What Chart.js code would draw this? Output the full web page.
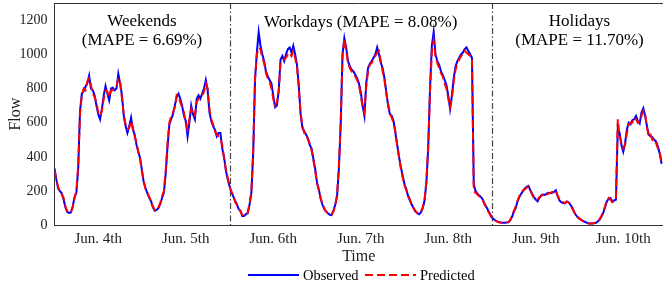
<!DOCTYPE html>
<html>
<head>
<meta charset="utf-8">
<script src="https://cdn.jsdelivr.net/npm/chart.js@4.4.1/dist/chart.umd.min.js"></script>
<style>
html, body { margin: 0; padding: 0; background: #fff; overflow: hidden; }
</style>
</head>
<body>
<canvas id="flowChart" width="663" height="286"></canvas>
<script>
// half-hourly traffic flow, one array per day (00:00 .. 23:30)
var obsJun4 = [333,270,215,200,187,150,105,78,72,75,110,165,190,330,670,770,785,810,830,875,800,790,760,700,650,620,680,760,815,770,730,800,805,790,800,885,830,760,640,580,540,580,630,560,530,470,430,390];
var obsJun5 = [320,250,215,185,160,140,105,85,90,100,125,160,190,300,460,590,620,650,700,750,770,740,700,640,610,520,600,700,650,620,740,760,740,770,800,850,790,660,610,580,560,520,540,540,450,400,320,270];
var obsJun6 = [230,195,170,145,125,95,85,55,55,65,70,120,190,420,850,1010,1130,1050,1000,960,900,870,850,830,760,690,700,790,970,990,960,1000,1030,1040,1010,1050,1000,940,820,650,570,550,530,510,470,450,390,330];
var obsJun7 = [250,210,155,120,95,80,70,62,60,85,120,170,330,590,1000,1095,1040,960,930,910,900,880,860,830,780,700,640,830,920,945,960,980,1000,1040,1000,950,920,860,780,700,650,640,610,540,470,400,340,290];
var obsJun8 = [240,210,170,145,120,100,80,72,65,75,100,145,250,450,800,1050,1130,1000,960,940,900,880,850,820,760,680,760,860,930,960,980,1000,1010,1030,1040,1020,1000,980,240,200,185,175,165,150,125,105,85,65];
var obsJun9 = [45,35,28,22,18,16,15,15,16,18,30,50,80,100,140,165,185,200,215,225,230,205,185,165,150,140,160,175,180,178,185,190,188,190,195,205,170,145,135,130,128,140,135,120,105,80,60,48];
var obsJun10 = [40,32,25,20,15,12,10,10,12,15,22,32,50,72,105,140,155,160,140,145,150,570,540,470,430,480,560,600,590,615,620,640,610,595,660,685,640,580,530,520,515,500,490,460,420,360];

var predJun4 = [320,265,225,195,180,160,110,82,70,80,105,160,200,350,650,760,800,790,840,860,820,770,750,720,660,640,670,740,790,780,750,790,790,800,810,860,840,740,650,590,560,570,610,570,520,480,425,385];
var predJun5 = [310,255,210,190,165,135,110,88,85,105,130,170,200,320,480,600,640,660,690,760,750,720,690,660,600,560,620,680,640,640,720,740,750,760,780,830,800,680,620,590,550,530,520,510,470,390,330,280];
var predJun6 = [225,200,175,140,120,100,80,60,60,60,75,125,200,440,860,1000,1040,1030,980,950,890,860,840,800,740,700,720,780,950,970,970,980,1000,1010,990,1020,980,930,800,660,580,540,540,500,480,440,380,320];
var predJun7 = [245,205,160,125,100,80,72,65,62,80,115,180,350,600,990,1090,1020,950,920,900,890,870,850,820,760,690,660,810,900,940,950,970,990,1010,1020,960,900,850,770,710,660,630,600,550,460,400,330,280];
var predJun8 = [235,205,175,150,115,100,85,70,68,80,105,150,260,470,780,1020,1080,990,950,920,890,870,830,800,740,690,740,840,910,950,970,990,1000,1020,1010,1000,990,970,200,190,180,170,160,145,120,100,80,60];
var predJun9 = [42,33,26,20,17,15,14,15,17,20,32,55,85,110,145,170,190,205,210,220,225,210,180,160,155,150,165,170,185,180,180,185,190,195,190,200,175,150,140,135,130,138,132,118,100,78,58,45];
var predJun10 = [38,30,24,19,14,11,10,11,13,16,24,35,55,80,110,150,160,150,135,140,160,620,520,480,450,470,540,590,600,600,630,620,600,610,640,670,650,570,520,530,500,510,480,450,430,370];

var dayLabels = ["Jun. 4th", "Jun. 5th", "Jun. 6th", "Jun. 7th", "Jun. 8th", "Jun. 9th", "Jun. 10th"];
var yTicks = [0, 200, 400, 600, 800, 1000, 1200];
var periodBreaks = [48, 120];          // hours where the day type changes
var periodCenters = [24, 84, 144];
var periodText = [
    ["Weekends", "(MAPE = 6.69%)"],
    ["Workdays (MAPE = 8.08%)"],
    ["Holidays", "(MAPE = 11.70%)"]
];
var stepHours = 0.5;

var observed = [].concat(obsJun4, obsJun5, obsJun6, obsJun7, obsJun8, obsJun9, obsJun10);
var predicted = [].concat(predJun4, predJun5, predJun6, predJun7, predJun8, predJun9, predJun10);

function toPoints(arr) {
    return arr.map(function(v, i) { return {x: i * stepHours, y: v}; });
}

var serif = "'Liberation Serif', 'Times New Roman', serif";
var axisColor = "#333";

function noPadding(scale) {
    scale.paddingTop = 0;
    scale.paddingBottom = 0;
    scale.paddingLeft = 0;
    scale.paddingRight = 0;
}

var extras = {
    id: "extras",
    beforeDatasetsDraw: function(chart) {
        var ctx = chart.ctx, area = chart.chartArea, xs = chart.scales.x;
        ctx.save();
        ctx.strokeStyle = "#444";
        ctx.lineWidth = 1.2;
        ctx.setLineDash([6, 2.5, 1.5, 2.5]);
        periodBreaks.forEach(function(h) {
            var px = Math.round(xs.getPixelForValue(h)) + 0.5;
            ctx.beginPath();
            ctx.moveTo(px, area.top);
            ctx.lineTo(px, area.bottom);
            ctx.stroke();
        });
        ctx.restore();
    },
    afterDraw: function(chart) {
        var ctx = chart.ctx, area = chart.chartArea, xs = chart.scales.x;
        ctx.save();
        // top spine
        ctx.strokeStyle = axisColor;
        ctx.lineWidth = 1;
        ctx.beginPath();
        ctx.moveTo(area.left, area.top + 0.5);
        ctx.lineTo(area.right, area.top + 0.5);
        ctx.stroke();

        // period annotations
        ctx.fillStyle = "#000";
        ctx.font = "17px " + serif;
        ctx.textAlign = "center";
        ctx.textBaseline = "alphabetic";
        periodText.forEach(function(lines, k) {
            var cx = xs.getPixelForValue(periodCenters[k]);
            if (lines.length == 1) {
                ctx.fillText(lines[0], cx, 27);
            } else {
                ctx.fillText(lines[0], cx, 25.5);
                ctx.fillText(lines[1], cx, 44.5);
            }
        });

        // legend
        var ds = chart.data.datasets;
        var items = [
            {d: ds[0], x0: 248, x1: 299, tx: 303},
            {d: ds[1], x0: 365, x1: 416, tx: 420}
        ];
        ctx.textAlign = "left";
        ctx.font = "14.5px " + serif;
        items.forEach(function(it) {
            ctx.strokeStyle = it.d.borderColor;
            ctx.lineWidth = 2;
            ctx.setLineDash(it.d.borderDash || []);
            ctx.beginPath();
            ctx.moveTo(it.x0, 275);
            ctx.lineTo(it.x1, 275);
            ctx.stroke();
            ctx.setLineDash([]);
            ctx.fillStyle = "#000";
            ctx.fillText(it.d.label, it.tx, 279.5);
        });
        ctx.restore();
    }
};

var ctx = document.getElementById("flowChart").getContext("2d");

var config = {
    type: "line",
    data: {
        datasets: [
            {
                label: "Observed",
                data: toPoints(observed),
                borderColor: "#0000ff",
                borderWidth: 2,
                pointRadius: 0,
                tension: 0,
                order: 2
            },
            {
                label: "Predicted",
                data: toPoints(predicted),
                borderColor: "#ff0000",
                borderWidth: 2,
                borderDash: [8, 4],
                pointRadius: 0,
                tension: 0,
                order: 1
            }
        ]
    },
    options: {
        responsive: false,
        animation: false,
        devicePixelRatio: 1,
        layout: {
            padding: {top: 3, right: 0, bottom: 20, left: 0}
        },
        scales: {
            x: {
                type: "linear",
                min: 0,
                max: 166.9,
                grid: { display: false, drawTicks: false },
                border: { display: true, color: axisColor, width: 1 },
                afterBuildTicks: function(scale) {
                    scale.ticks = dayLabels.map(function(lab, i) { return {value: 12 + 24 * i}; });
                },
                afterFit: function(scale) { scale.height = 40.7; noPadding(scale); },
                ticks: {
                    color: "#222",
                    font: { family: serif, size: 15 },
                    padding: 5,
                    maxRotation: 0,
                    autoSkip: false,
                    callback: function(v) { return dayLabels[Math.round((v - 12) / 24)]; }
                },
                title: {
                    display: true,
                    text: "Time",
                    color: "#222",
                    font: { family: serif, size: 16 },
                    padding: {top: 0, bottom: 0}
                }
            },
            y: {
                min: 0,
                max: 1300,
                grid: { display: false, drawTicks: false },
                border: { display: true, color: axisColor, width: 1 },
                afterBuildTicks: function(scale) {
                    scale.ticks = yTicks.map(function(v) { return {value: v}; });
                },
                afterFit: function(scale) { scale.width = 54.5; noPadding(scale); },
                ticks: {
                    color: "#222",
                    font: { family: serif, size: 14 },
                    padding: 7,
                    callback: function(v) { return String(v); }
                },
                title: {
                    display: true,
                    text: "Flow",
                    color: "#222",
                    font: { family: serif, size: 16 },
                    padding: {top: 6, bottom: 0}
                }
            }
        },
        plugins: {
            legend: { display: false },
            tooltip: { enabled: false }
        }
    },
    plugins: [extras]
};

var flowChart = new Chart(ctx, config);
</script>
</body>
</html>
